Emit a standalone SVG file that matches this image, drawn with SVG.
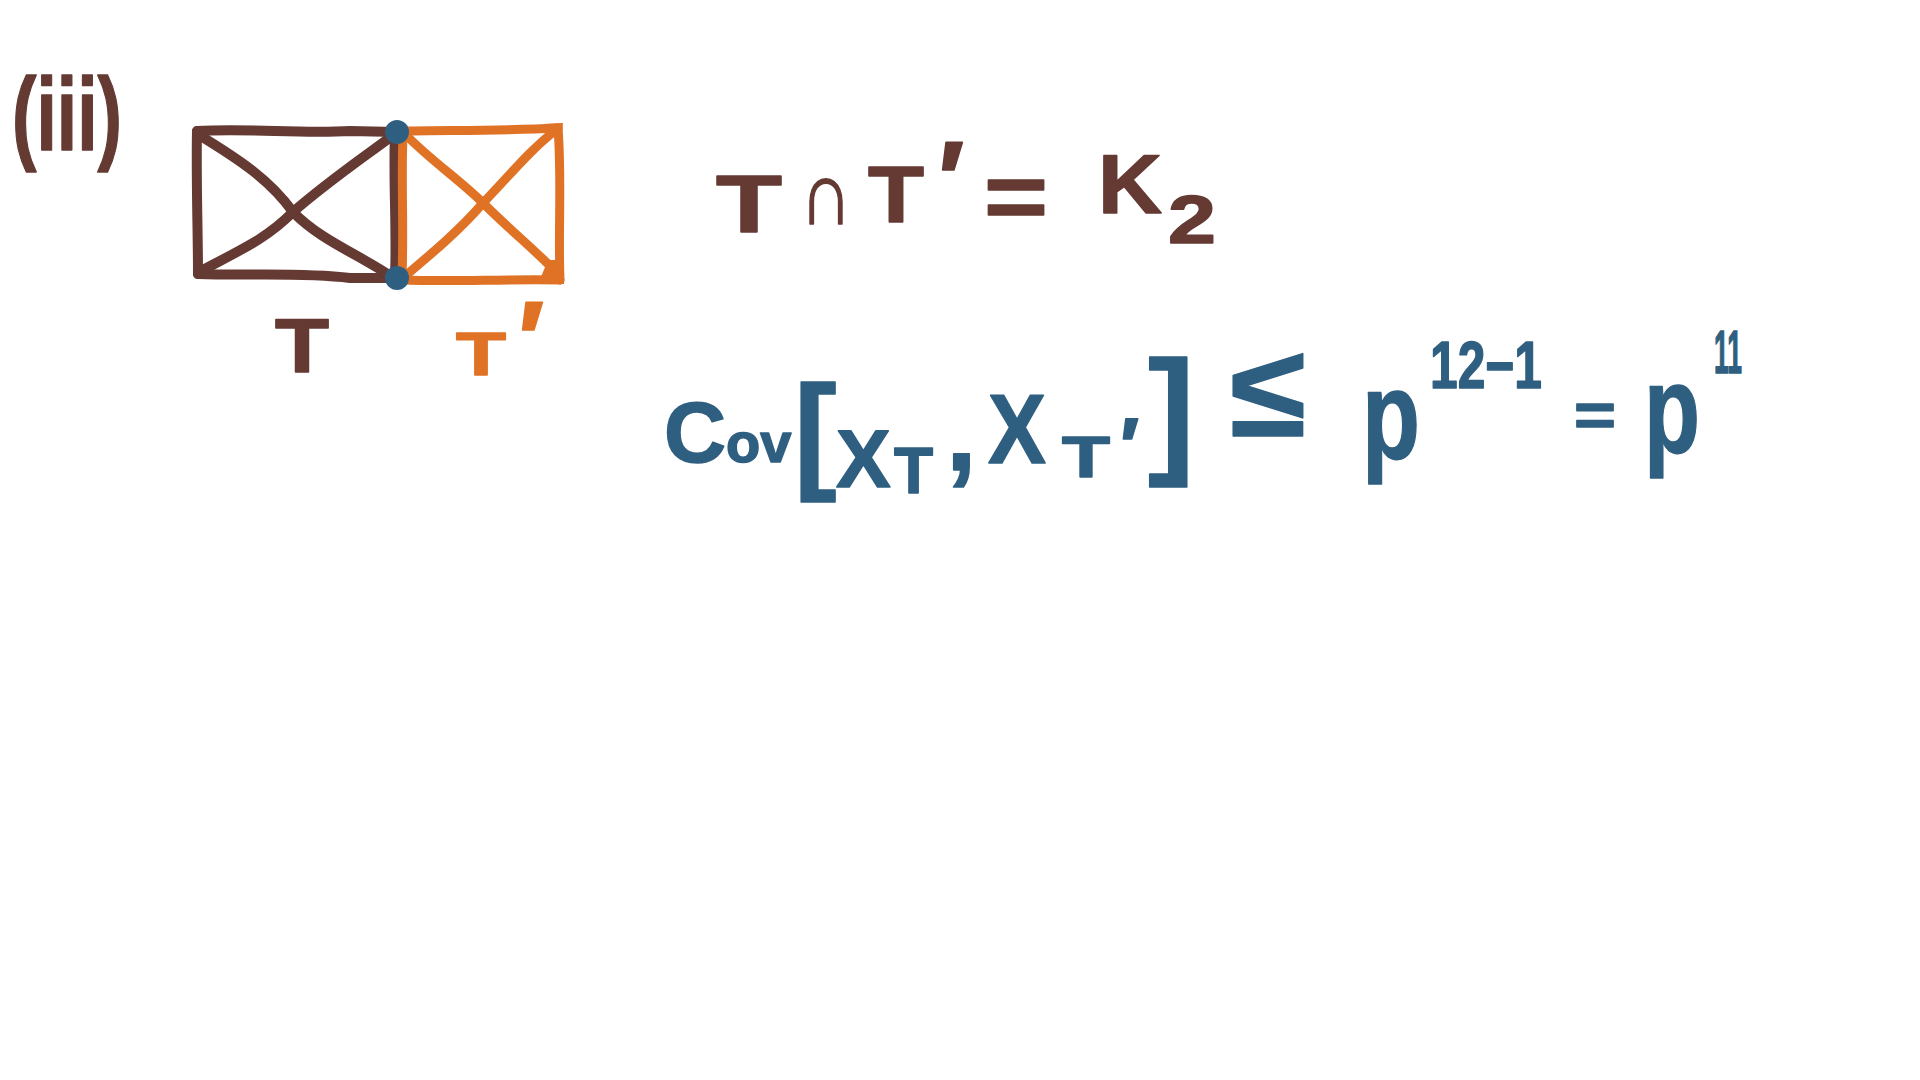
<svg xmlns="http://www.w3.org/2000/svg" width="1920" height="1080" viewBox="0 0 1920 1080">
<style>
.bg{fill:#ffffff}
.ln{fill:none;stroke-linecap:round;stroke-linejoin:round}
.br{stroke:#643a33;stroke-width:10}
.or{stroke:#e07226;stroke-width:9}
.dot{fill:#2f5f80}
.t{font-family:"Liberation Sans","DejaVu Sans",sans-serif;font-weight:700;stroke-linejoin:round}
.tb{fill:#643a33;stroke:#643a33;stroke-width:1.5}
.to{fill:#e07226;stroke:#e07226;stroke-width:1.5}
.tu{fill:#2f5f80;stroke:#2f5f80;stroke-width:1.5}
</style>
<rect class="bg" x="0" y="0" width="1920" height="1080"/>

<g id="label-iii">
<text class="t tb" x="12" y="150" font-size="104" textLength="110" lengthAdjust="spacingAndGlyphs">(iii)</text>
</g>

<g id="connectors">
<g id="edges-T">
<path class="ln br" d="M197,131 C250,128 300,134 350,131 L396,132"/>
<path class="ln br" d="M197,131 C196,180 198,230 198,274"/>
<path class="ln br" d="M198,274 C250,276 300,272 350,278 L396,278"/>
<path class="ln br" d="M395,134 C393,180 397,230 395,276"/>
<path class="ln br" d="M199,135 C240,160 270,180 293,212 C320,240 360,255 392,277"/>
<path class="ln br" d="M199,272 C240,250 265,240 293,212 C330,180 360,160 392,136"/>
</g>
<g id="edges-Tprime">
<path class="ln or" d="M403,131 C450,130 500,131 558,128"/>
<path class="ln or" d="M558,128 C562,180 558,230 560,280"/>
<path class="ln or" d="M403,280 C450,282 500,279 560,280"/>
<path class="ln or" d="M403,136 C401,180 404,230 402,276"/>
<path class="ln or" d="M405,134 C430,160 460,180 483,203 C510,230 535,250 556,272"/>
<path class="ln or" d="M405,276 C430,255 460,230 483,203 C510,175 530,150 556,130"/>
<path fill="#e07226" d="M548,260 L564,260 L564,284 L538,284 Z"/>
<path fill="#e07226" d="M543,124 L563,123 L561,144 Z"/>
</g>
</g>

<g id="vertices">
<circle id="v-top" class="dot" cx="397" cy="132" r="12"/>
<circle id="v-bottom" class="dot" cx="397" cy="278" r="12"/>
</g>

<g id="label-T">
<text class="t tb" x="275" y="372" font-size="76" textLength="54" lengthAdjust="spacingAndGlyphs">T</text>
</g>
<g id="label-Tprime">
<text class="t to" x="456" y="375" font-size="62" textLength="50" lengthAdjust="spacingAndGlyphs">T</text>
<text class="t to" x="518" y="378" font-size="110">′</text>
</g>

<g id="eq-intersection">
<text class="t tb" x="716" y="232" font-size="82" textLength="66" lengthAdjust="spacingAndGlyphs">T</text>
<text class="t tb" x="800" y="224" font-size="90" textLength="52" lengthAdjust="spacingAndGlyphs" stroke-width="4">∩</text>
<text class="t tb" x="868" y="222" font-size="80" textLength="56" lengthAdjust="spacingAndGlyphs">T</text>
<text class="t tb" x="938" y="218" font-size="110">′</text>
<text class="t tb" x="984" y="228" font-size="92" textLength="64" lengthAdjust="spacingAndGlyphs">=</text>
<text class="t tb" x="1098" y="213" font-size="84" textLength="64" lengthAdjust="spacingAndGlyphs">K</text>
<text class="t tb" x="1168" y="243" font-size="68" textLength="48" lengthAdjust="spacingAndGlyphs">2</text>
</g>

<g id="eq-covariance">
<text class="t tu" x="664" y="462"><tspan font-size="86">C</tspan><tspan font-size="56">ov</tspan></text>
<text class="t tu" x="794" y="475" font-size="128">[</text>
<text class="t tu" x="836" y="487" font-size="82">X</text>
<text class="t tu" x="894" y="493" font-size="64">T</text>
<text class="t tu" x="946" y="470" font-size="110">,</text>
<text class="t tu" x="988" y="463" font-size="98" textLength="58" lengthAdjust="spacingAndGlyphs">X</text>
<text class="t tu" x="1062" y="477" font-size="58" textLength="48" lengthAdjust="spacingAndGlyphs">T</text>
<text class="t tu" x="1120" y="474" font-size="80">′</text>
<text class="t tu" x="1148" y="458" font-size="140">]</text>
<text class="t tu" x="1230" y="436" font-size="130" textLength="76" lengthAdjust="spacingAndGlyphs">≤</text>
<text class="t tu" x="1362" y="458" font-size="125" textLength="58" lengthAdjust="spacingAndGlyphs">p</text>
<text class="t tu" x="1430" y="388" font-size="66" textLength="112" lengthAdjust="spacingAndGlyphs">12−1</text>
<text class="t tu" x="1574" y="436" font-size="62" textLength="42" lengthAdjust="spacingAndGlyphs">=</text>
<text class="t tu" x="1644" y="452" font-size="125" textLength="56" lengthAdjust="spacingAndGlyphs">p</text>
<text class="t tu" x="1714" y="373" font-size="62" textLength="28" lengthAdjust="spacingAndGlyphs">11</text>
</g>
</svg>
